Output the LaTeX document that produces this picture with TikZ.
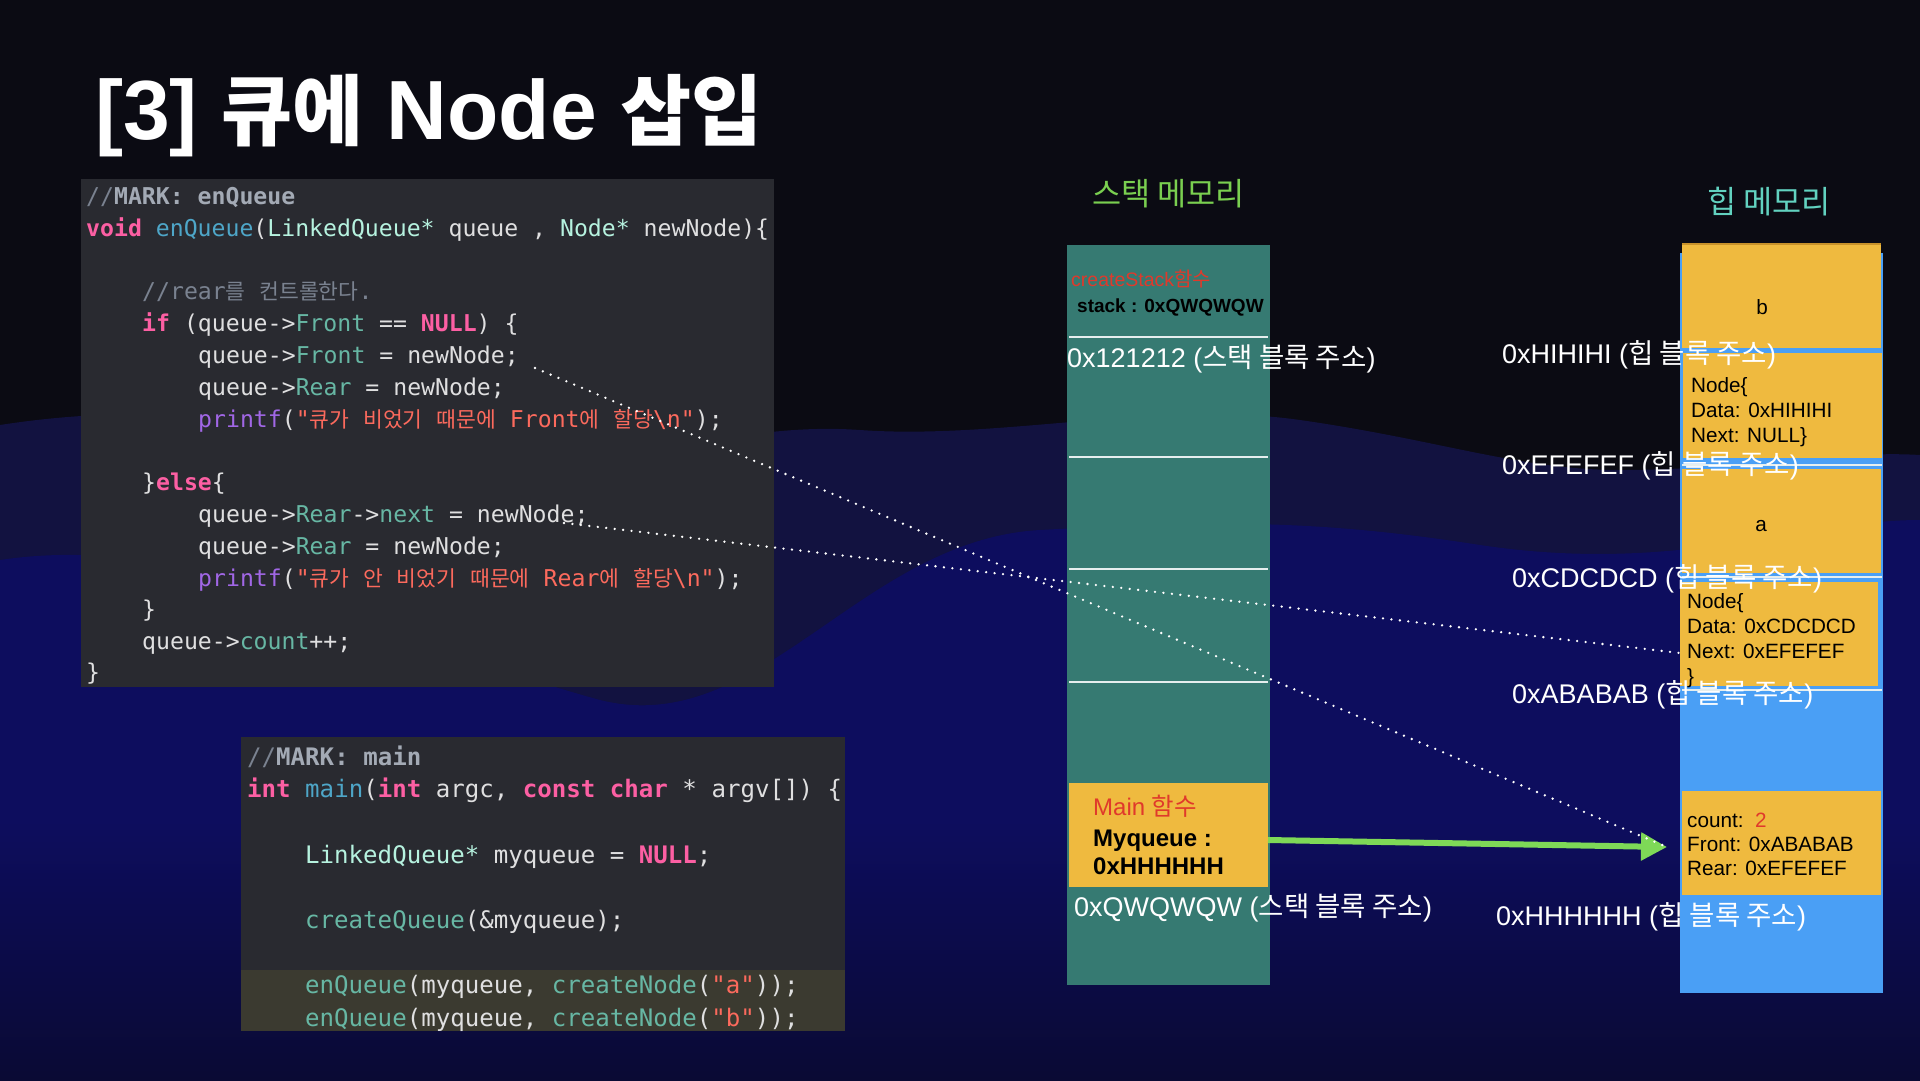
\documentclass[tikz,border=0pt]{standalone}
\usepackage{fontspec}
\setmainfont{Liberation Sans}
\newfontfamily\krfont[Scale=1.02]{Noto Sans CJK KR}
\newfontfamily\krtitle[Scale=0.92]{Noto Sans CJK KR}
\newfontfamily\krcode[Scale=0.93]{Noto Sans CJK KR}
\newfontfamily\codefont{DejaVu Sans Mono}
\usetikzlibrary{arrows.meta}

\definecolor{bgdark}{HTML}{0B0B13}
\definecolor{wavedeep}{HTML}{121240}
\definecolor{wavemid}{HTML}{0D0D5E}
\definecolor{wavelow}{HTML}{0A0A34}
\definecolor{codebg}{HTML}{292A30}
\definecolor{codehl}{HTML}{3B3A30}
\definecolor{codetxt}{HTML}{DFDFE0}
\definecolor{ckwc}{HTML}{FC5FA3}
\definecolor{cfnc}{HTML}{4EA6C8}
\definecolor{ctyc}{HTML}{B6F2DF}
\definecolor{cprc}{HTML}{67B7A4}
\definecolor{cstrc}{HTML}{FC6A5D}
\definecolor{cpfc}{HTML}{A167E6}
\definecolor{ccmc}{HTML}{7A8290}
\definecolor{cmkc}{HTML}{A3AAB5}
\definecolor{stackteal}{HTML}{367A72}
\definecolor{heapblue}{HTML}{4A9FF5}
\definecolor{boxyellow}{HTML}{EFBA3F}
\definecolor{boxedge}{HTML}{C8922A}
\definecolor{sepwhite}{HTML}{E6EEEE}
\definecolor{fnred}{HTML}{E0392B}
\definecolor{stackgreen}{HTML}{7ACF50}
\definecolor{heapcyan}{HTML}{62D2C0}
\definecolor{ptrgreen}{HTML}{7ED957}

\newcommand{\kr}[1]{{\krfont #1}}
\newcommand{\krc}[1]{{\krcode #1}}
\newcommand{\ckw}[1]{\textcolor{ckwc}{\bfseries #1}}
\newcommand{\cfn}[1]{\textcolor{cfnc}{#1}}
\newcommand{\cty}[1]{\textcolor{ctyc}{#1}}
\newcommand{\cpr}[1]{\textcolor{cprc}{#1}}
\newcommand{\cstr}[1]{\textcolor{cstrc}{#1}}
\newcommand{\cpf}[1]{\textcolor{cpfc}{#1}}
\newcommand{\ccm}[1]{\textcolor{ccmc}{#1}}
\newcommand{\mk}[1]{\textcolor{cmkc}{\bfseries #1}}

\begin{document}
\begin{tikzpicture}[x=1pt, y=-1pt,
  codeline/.style={anchor=base west, inner sep=0, text=codetxt, font=\codefont\fontsize{23.15}{28}\selectfont},
  codelineb/.style={codeline, font=\codefont\fontsize{24.1}{29}\selectfont},
  lbl/.style={anchor=base west, inner sep=0, text=white, font=\fontsize{27}{32}\selectfont},
  memhead/.style={anchor=base west, inner sep=0, font=\fontsize{31}{36}\selectfont},
  celltxt/.style={anchor=base west, inner sep=0, text=black, font=\fontsize{20.7}{25}\selectfont},
  memblock/.style={anchor=north west, inner sep=0, outer sep=0, draw=none},
  ybox/.style={memblock, fill=boxyellow},
  sepline/.style={draw=sepwhite, line width=2pt},
  ptrline/.style={white, line width=2.6pt, line cap=round, dash pattern=on 0pt off 8.5pt},
  qarrow/.style={ptrgreen, line width=6pt, -{Triangle[length=26pt, width=27pt]}}]

  \useasboundingbox (0,0) rectangle (1920,1080);

  % background waves
  \fill[bgdark] (0,0) rectangle (1920,1080);
  \fill[wavedeep] (0,425) .. controls (160,400) and (320,420) .. (470,450)
    .. controls (620,480) and (720,420) .. (860,430)
    .. controls (1000,440) and (1160,400) .. (1300,420)
    .. controls (1440,440) and (1520,470) .. (1620,470)
    .. controls (1740,470) and (1840,450) .. (1920,455)
    -- (1920,1080) -- (0,1080) -- cycle;
  \fill[wavemid] (0,560) .. controls (200,530) and (380,640) .. (600,700)
    .. controls (760,740) and (860,540) .. (1040,530)
    .. controls (1220,520) and (1320,520) .. (1480,545)
    .. controls (1680,575) and (1800,520) .. (1920,520)
    -- (1920,1080) -- (0,1080) -- cycle;
  \shade[top color=wavemid, bottom color=wavelow] (0,820) rectangle (1920,1080);

  \node[anchor=base west, inner sep=0, text=white, font=\bfseries\fontsize{84}{100}\selectfont]
    (title) at (95,139) {[3] {\krtitle 큐에} Node {\krtitle 삽입}};

  % enQueue code
  \fill[codebg] (81,179) rectangle (774,687);
  \node[codeline] (c1)  at (86,204)  {\ccm{//}\mk{MARK: enQueue}};
  \node[codeline] (c2)  at (86,236)  {\ckw{void} \cfn{enQueue}(\cty{LinkedQueue*} queue , \cty{Node*} newNode)\{};
  \node[codeline] (c3)  at (142,299) {\ccm{//rear\krc{를} \krc{컨트롤한다}.}};
  \node[codeline] (c4)  at (142,331) {\ckw{if} (queue->\cpr{Front} == \ckw{NULL}) \{};
  \node[codeline] (c5)  at (198,363) {queue->\cpr{Front} = newNode;};
  \node[codeline] (c6)  at (198,395) {queue->\cpr{Rear} = newNode;};
  \node[codeline] (c7)  at (198,427) {\cpf{printf}(\cstr{"\krc{큐가} \krc{비었기} \krc{때문에} Front\krc{에} \krc{할당}\textbackslash n"});};
  \node[codeline] (c8)  at (142,490) {\}\ckw{else}\{};
  \node[codeline] (c9)  at (198,522) {queue->\cpr{Rear}->\cpr{next} = newNode;};
  \node[codeline] (c10) at (198,554) {queue->\cpr{Rear} = newNode;};
  \node[codeline] (c11) at (198,586) {\cpf{printf}(\cstr{"\krc{큐가} \krc{안} \krc{비었기} \krc{때문에} Rear\krc{에} \krc{할당}\textbackslash n"});};
  \node[codeline] (c12) at (142,617) {\}};
  \node[codeline] (c13) at (142,649) {queue->\cpr{count}++;};
  \node[codeline] (c14) at (86,680)  {\}};

  % main code
  \fill[codebg] (241,737) rectangle (845,1031);
  \fill[codehl] (241,970) rectangle (845,1031);
  \node[codelineb] (m1) at (247,765)  {\ccm{//}\mk{MARK: main}};
  \node[codelineb] (m2) at (247,797)  {\ckw{int} \cfn{main}(\ckw{int} argc, \ckw{const} \ckw{char} * argv[]) \{};
  \node[codelineb] (m3) at (305,863)  {\cty{LinkedQueue*} myqueue = \ckw{NULL};};
  \node[codelineb] (m4) at (305,928)  {\cpr{createQueue}(\&myqueue);};
  \node[codelineb] (m5) at (305,993)  {\cpr{enQueue}(myqueue, \cpr{createNode}(\cstr{"a"}));};
  \node[codelineb] (m6) at (305,1026) {\cpr{enQueue}(myqueue, \cpr{createNode}(\cstr{"b"}));};

  % stack memory
  \node[memhead, text=stackgreen] (stackTitle) at (1092,205) {\kr{스택 메모리}};
  \node[memblock, fill=stackteal, minimum width=203pt, minimum height=740pt] (stack) at (1067,245) {};
  \draw[sepline] (1069,337) -- (1268,337);
  \draw[sepline] (1069,457) -- (1268,457);
  \draw[sepline] (1069,569) -- (1268,569);
  \draw[sepline] (1069,682) -- (1268,682);
  \node[ybox, minimum width=199pt, minimum height=104pt] (mainBox) at (1069,783) {};
  \node[anchor=base west, inner sep=0, text=fnred, font=\fontsize{19.5}{23}\selectfont] (csName) at (1071,286) {createStack\kr{함수}};
  \node[anchor=base west, inner sep=0, text=black, font=\bfseries\fontsize{19}{23}\selectfont] (csVar) at (1077,312) {stack : 0xQWQWQW};
  \node[lbl] (addr121) at (1067,367) {0x121212 (\kr{스택 블록 주소})};
  \node[anchor=base west, inner sep=0, text=fnred, font=\fontsize{24}{28}\selectfont] (mainName) at (1093,815) {Main \kr{함수}};
  \node[anchor=base west, inner sep=0, text=black, font=\bfseries\fontsize{24}{28}\selectfont] (mainVar) at (1093,846) {Myqueue :};
  \node[anchor=base west, inner sep=0, text=black, font=\bfseries\fontsize{24}{28}\selectfont] (mainVal) at (1093,874) {0xHHHHHH};
  \node[lbl] (addrQW) at (1074,916) {0xQWQWQW (\kr{스택 블록 주소})};

  % heap memory
  \node[memhead, text=heapcyan] (heapTitle) at (1707,213) {\kr{힙 메모리}};
  \node[memblock, fill=heapblue, minimum width=203pt, minimum height=740pt] (heap) at (1680,253) {};
  \node[ybox, minimum width=199pt, minimum height=104pt] (bBox) at (1682,244) {};
  \draw[boxedge, line width=1.5pt] (bBox.north west) -- (bBox.north east);
  \node[ybox, minimum width=199pt, minimum height=105pt] (nodeB) at (1683,353) {};
  \node[ybox, minimum width=199pt, minimum height=104pt] (aBox) at (1682,469) {};
  \node[ybox, minimum width=198pt, minimum height=104pt] (nodeA) at (1680,582) {};
  \node[ybox, minimum width=199pt, minimum height=104pt] (queueBox) at (1682,791) {};
  \draw[sepline] (1682,465) -- (1882,465);
  \draw[sepline] (1682,577) -- (1882,577);
  \draw[sepline] (1682,690) -- (1882,690);

  \node[celltxt, anchor=base] (bVal) at (1762,314) {b};
  \node[celltxt] (nb1) at (1691,392) {Node\{};
  \node[celltxt] (nb2) at (1691,417) {Data: 0xHIHIHI};
  \node[celltxt] (nb3) at (1691,442) {Next: NULL\}};
  \node[celltxt, anchor=base] (aVal) at (1761,531) {a};
  \node[celltxt] (na1) at (1687,608) {Node\{};
  \node[celltxt] (na2) at (1687,633) {Data: 0xCDCDCD};
  \node[celltxt] (na3) at (1687,658) {Next: 0xEFEFEF};
  \node[celltxt] (na4) at (1687,683) {\}};
  \node[celltxt] (q1) at (1687,827) {count:\ \ \textcolor{fnred}{2}};
  \node[celltxt] (q2) at (1687,851) {Front: 0xABABAB};
  \node[celltxt] (q3) at (1687,875) {Rear: 0xEFEFEF};

  \node[lbl] (hHI) at (1502,363) {0xHIHIHI (\kr{힙 블록 주소})};
  \node[lbl] (hEF) at (1502,474) {0xEFEFEF (\kr{힙 블록 주소})};
  \node[lbl] (hCD) at (1512,587) {0xCDCDCD (\kr{힙 블록 주소})};
  \node[lbl] (hAB) at (1512,703) {0xABABAB (\kr{힙 블록 주소})};
  \node[lbl] (hHH) at (1496,925) {0xHHHHHH (\kr{힙 블록 주소})};

  % pointers
  \coordinate (qTip) at ([xshift=-15pt, yshift=-4pt]queueBox.west);
  \coordinate (nextDst) at ([yshift=-19pt]nodeA.west);
  \coordinate (frontSrc) at (535,368);
  \coordinate (nextSrc) at (564,523);
  \draw[qarrow] ([yshift=-5pt]mainBox.east) -- (qTip);
  \draw[ptrline] (frontSrc) -- (qTip);
  \draw[ptrline] (nextSrc) -- (nextDst);
\end{tikzpicture}
\end{document}
